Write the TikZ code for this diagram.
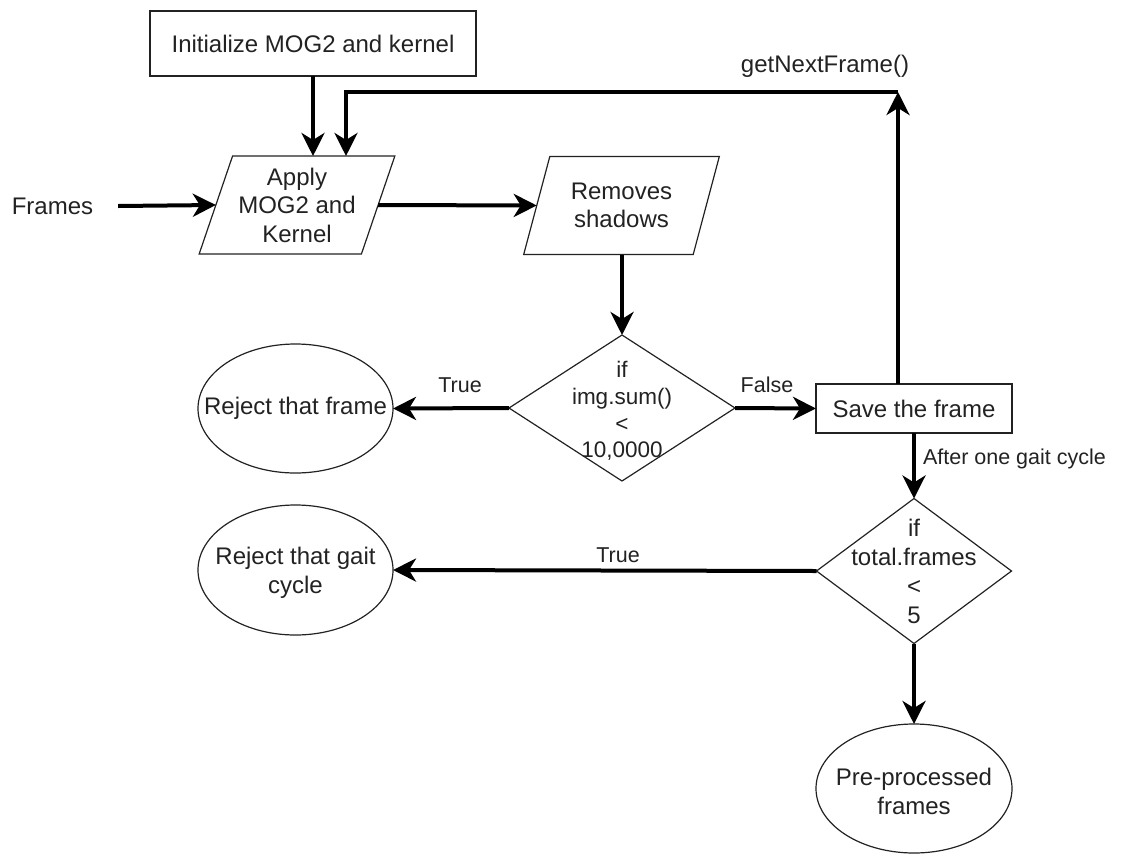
\documentclass[tikz,border=0pt]{standalone}
\usepackage{fontspec}
\setmainfont{Liberation Sans}
\usetikzlibrary{shapes.geometric,arrows.meta}
\definecolor{ink}{HTML}{222222}
\begin{document}
\begin{tikzpicture}[x=1pt,y=-1pt,
  every node/.style={inner sep=0pt, outer sep=0pt, text=ink, font=\fontsize{24}{28.5}\selectfont},
  box/.style={draw=ink, line width=1.2pt, rectangle},
  para/.style={draw=ink, line width=1.2pt, trapezium, trapezium left angle=67.8, trapezium right angle=112.2, trapezium stretches=true, minimum width=196, minimum height=98, align=center},
  dia/.style={draw=ink, line width=1.2pt, diamond},
  oval/.style={draw=ink, line width=1.2pt, ellipse},
  flow/.style={line width=4pt, -{Stealth[length=23pt,width=23pt,inset=7pt]}},
  lab/.style={align=center},
  elab/.style={font=\fontsize{21.5}{25}\selectfont}
]
\useasboundingbox (0,0) rectangle (1121,854);

% shapes
\node[box, minimum width=326, minimum height=65] (init) at (313,43.5) {Initialize MOG2 and kernel};
\node[para] (apply) at (297,205) {Apply\\MOG2 and\\Kernel};
\node[para] (rem) at (621.5,205.5) {Removes\\shadows};
\node[dia, minimum width=226, minimum height=146,
  label={[lab, yshift=-3pt, font=\fontsize{22.5}{26.7}\selectfont]center:{if\\img.sum()\\<\\10,0000}}] (d1) at (622,408) {};
\node[oval, minimum width=195, minimum height=129,
  label={[lab]center:{Reject that frame}}] (rej1) at (295.5,408.5) {};
\node[box, minimum width=196, minimum height=49] (save) at (914,408.5) {Save the frame};
\node[dia, minimum width=195, minimum height=145,
  label={[lab, font=\fontsize{24}{29}\selectfont]center:{if\\total.frames\\<\\5}}] (d2) at (914,571) {};
\node[oval, minimum width=195, minimum height=130,
  label={[lab, yshift=-3pt]center:{Reject that gait\\cycle}}] (rej2) at (295.5,570) {};
\node[oval, minimum width=196, minimum height=129,
  label={[lab, yshift=-3pt]center:{Pre-processed\\frames}}] (pre) at (914,788.5) {};

% free texts
\node (frames) at (52.5,206) {Frames};
\node (gnf) at (825,66) {getNextFrame()};
\coordinate (loop) at (898,92);

% edge labels
\node[elab] (t1) at (460,385) {True};
\node[elab] (f1) at (767,385) {False};
\node[elab] (t2) at (618,555) {True};
\node[elab, anchor=west] (agc) at (923,459) {After one gait cycle};

% connectors
\draw[flow] ([xshift=25pt]frames.east) -- (apply.west);
\draw[flow] (init.south) -- (init.south |- apply.north);
\draw[flow] ([xshift=-16pt]save.north) -- (loop);
\draw[flow] (loop) -| (346,0 |- apply.north);
\draw[flow] (apply.east) -- (rem.west);
\draw[flow] (d1.north |- rem.south) -- (d1.north);
\draw[flow] (d1.west) -- (rej1.east);
\draw[flow] (d1.east) -- (save.west);
\draw[flow] (save.south) -- (d2.north);
\draw[flow] (d2.west) -- (rej2.east);
\draw[flow] (d2.south) -- (pre.north);
\end{tikzpicture}
\end{document}
